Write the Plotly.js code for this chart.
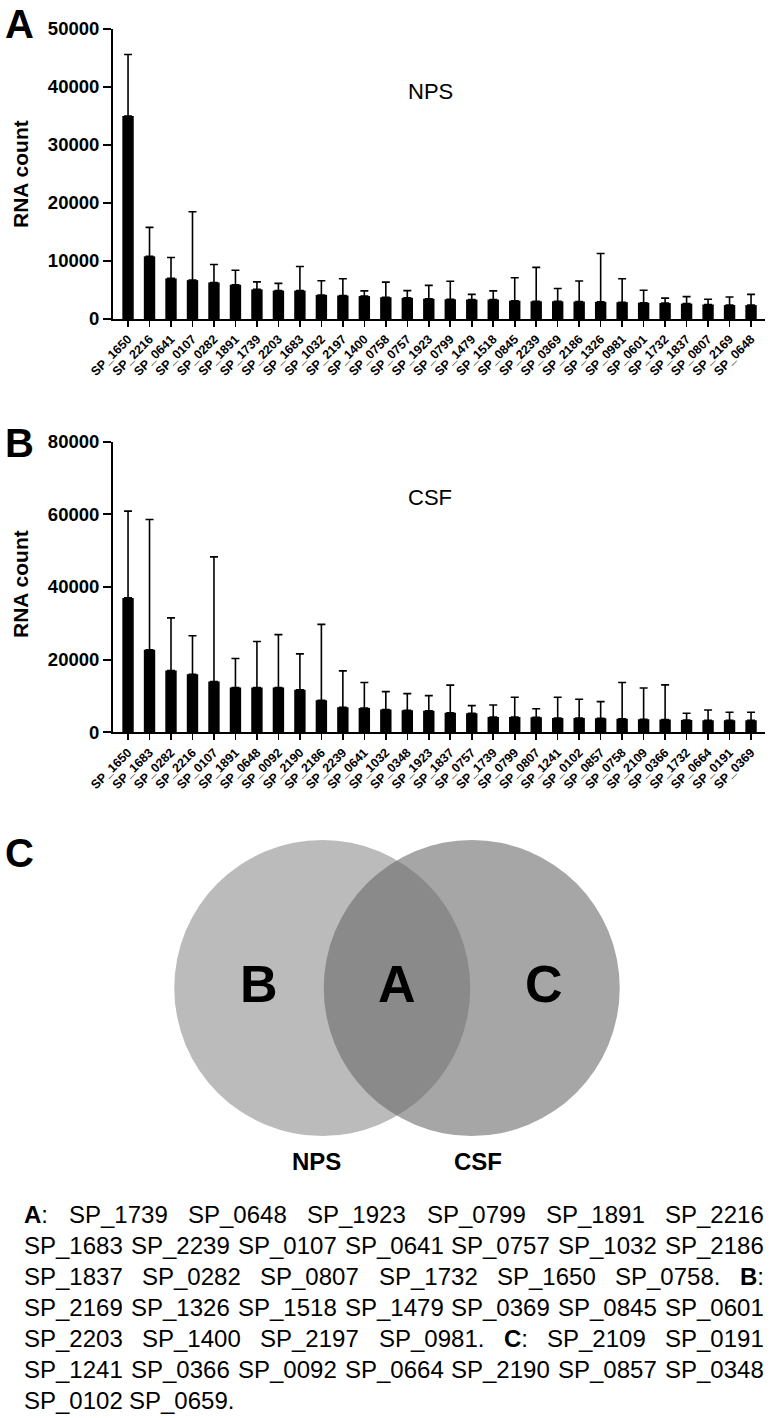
<!DOCTYPE html>
<html>
<head>
<meta charset="utf-8">
<script src="https://cdn.plot.ly/plotly-3.0.1.min.js"></script>
<style>
  html, body { margin: 0; padding: 0; background: #fff; }
  #chart { width: 780px; height: 1418px; }
</style>
</head>
<body>
<div id="chart"></div>
<script>
// ---------------- DATA ----------------
// Panel A: NPS
const npsGenes = ["SP_1650","SP_2216","SP_0641","SP_0107","SP_0282","SP_1891","SP_1739","SP_2203","SP_1683","SP_1032",
  "SP_2197","SP_1400","SP_0758","SP_0757","SP_1923","SP_0799","SP_1479","SP_1518","SP_0845","SP_2239",
  "SP_0369","SP_2186","SP_1326","SP_0981","SP_0601","SP_1732","SP_1837","SP_0807","SP_2169","SP_0648"];
const npsMean = [35000,10800,7000,6700,6300,5900,5100,4900,4900,4150,
  4050,3950,3750,3650,3500,3400,3350,3350,3150,3050,
  3050,3000,2950,2900,2800,2750,2650,2500,2400,2400];
const npsSD = [10600,5000,3600,11800,3100,2500,1300,1250,4150,2450,
  2900,900,2600,1250,2300,3100,900,1500,3950,5850,
  2200,3550,8350,4050,2150,850,1200,900,1400,1850];

// Panel B: CSF
const csfGenes = ["SP_1650","SP_1683","SP_0282","SP_2216","SP_0107","SP_1891","SP_0648","SP_0092","SP_2190","SP_2186",
  "SP_2239","SP_0641","SP_1032","SP_0348","SP_1923","SP_1837","SP_0757","SP_1739","SP_0799","SP_0807",
  "SP_1241","SP_0102","SP_0857","SP_0758","SP_2109","SP_0366","SP_1732","SP_0664","SP_0191","SP_0369"];
const csfMean = [37000,22700,17000,16000,14000,12300,12300,12300,11700,8800,
  6900,6700,6250,6050,5900,5400,5250,4200,4200,4150,
  3950,3950,3850,3750,3600,3500,3400,3300,3300,3300];
const csfSD = [23900,35900,14500,10600,34300,8000,12700,14600,9900,20900,
  10000,7000,4950,4600,4200,7600,2100,3300,5450,2350,
  5700,5150,4600,9950,8600,9550,1850,2850,2200,2200];

// Panel C: Venn groups
const groupA = ["SP_1739","SP_0648","SP_1923","SP_0799","SP_1891","SP_2216","SP_1683","SP_2239","SP_0107","SP_0641",
  "SP_0757","SP_1032","SP_2186","SP_1837","SP_0282","SP_0807","SP_1732","SP_1650","SP_0758"];
const groupB = ["SP_2169","SP_1326","SP_1518","SP_1479","SP_0369","SP_0845","SP_0601","SP_2203","SP_1400","SP_2197","SP_0981"];
const groupC = ["SP_2109","SP_0191","SP_1241","SP_0366","SP_0092","SP_0664","SP_2190","SP_0857","SP_0348","SP_0102","SP_0659"];
const setNames = ["NPS","CSF"];
const regionNames = ["B","A","C"];

// ---------------- LAYOUT HELPERS ----------------
const W = 780, H = 1418;
const px = x => x / W;
const py = y => 1 - y / H;
const FONT = "Arial, 'Liberation Sans', sans-serif";

function zeros(n){ return new Array(n).fill(0); }

const barTrace = (x, y, sd, xa, ya) => ({
  type: "bar", x: x, y: y, xaxis: xa, yaxis: ya,
  marker: { color: "#000000", line: { width: 0 } },
  width: 0.53,
  error_y: { type: "data", symmetric: false, array: sd, arrayminus: zeros(sd.length),
             color: "#000000", thickness: 1.6, width: 4 },
  hoverinfo: "skip", showlegend: false
});

const xAxisStyle = (domain, anchor, cats) => ({
  domain: domain, anchor: anchor, type: "category",
  categoryorder: "array", categoryarray: cats,
  range: [-0.7, cats.length - 0.35],
  showline: true, linecolor: "#000", linewidth: 2,
  ticks: "outside", ticklen: 6, tickwidth: 1.6, tickcolor: "#000",
  tickangle: -45, showgrid: false, zeroline: false,
  tickfont: { family: FONT, size: 12.5, color: "#000", weight: "bold" },
  automargin: false
});
const yAxisStyle = (domain, anchor, max, dtick) => ({
  domain: domain, anchor: anchor, range: [0, max], dtick: dtick, tick0: 0,
  tickformat: "d", separatethousands: false, exponentformat: "none",
  showline: true, linecolor: "#000", linewidth: 2,
  ticks: "outside", ticklen: 8, tickwidth: 2, tickcolor: "#000",
  showgrid: false, zeroline: false,
  tickfont: { family: FONT, size: 18.5, color: "#000", weight: "bold" },
  automargin: false
});

// Venn geometry (unit circle radius, centre offset)
const vR = 1, vOff = 0.505;

// ---------------- PARAGRAPH (justified) ----------------
const TXT_SIZE = 24;
const canvas = document.createElement("canvas");
const ctx = canvas.getContext("2d");
function wWidth(tok){
  if (tok.bold){
    ctx.font = "bold " + TXT_SIZE + "px Arial";
    const a = ctx.measureText(tok.label).width;
    ctx.font = TXT_SIZE + "px Arial";
    return a + ctx.measureText(":").width;
  }
  ctx.font = TXT_SIZE + "px Arial";
  return ctx.measureText(tok.text).width;
}
const tokens = [];
[[regionNames[1], groupA],[regionNames[0], groupB],[regionNames[2], groupC]].forEach(([lab, arr]) => {
  tokens.push({ bold: true, label: lab, html: "<b>" + lab + "</b>:" });
  arr.forEach((g, i) => {
    const t = g + (i === arr.length - 1 ? "." : "");
    tokens.push({ text: t, html: t });
  });
});
const lineSizes = [7,7,7,7,7,7,2];
const textLeft = 22, textRight = 762, firstLineY = 1214, lineStep = 31;
const textAnnotations = [];
let k = 0;
lineSizes.forEach((n, li) => {
  const lineToks = tokens.slice(k, k + n); k += n;
  const widths = lineToks.map(wWidth);
  const total = widths.reduce((a,b)=>a+b,0);
  const last = li === lineSizes.length - 1;
  ctx.font = TXT_SIZE + "px Arial";
  const gap = last ? ctx.measureText(" ").width : (textRight - textLeft - total) / (n - 1);
  let x = textLeft;
  lineToks.forEach((t, i) => {
    textAnnotations.push({
      xref: "paper", yref: "paper", x: px(x), y: py(firstLineY + li * lineStep),
      xanchor: "left", yanchor: "middle", showarrow: false, text: t.html,
      font: { family: FONT, size: TXT_SIZE, color: "#000" }
    });
    x += widths[i] + gap;
  });
});

// ---------------- FIGURE ----------------
const traces = [
  barTrace(npsGenes, npsMean, npsSD, "x", "y"),
  barTrace(csfGenes, csfMean, csfSD, "x2", "y2")
];

const annotations = [
  { xref:"paper", yref:"paper", x: px(19), y: py(24), text:"<b>A</b>", showarrow:false,
    font:{family:FONT,size:40,color:"#000"}, xanchor:"center", yanchor:"middle" },
  { xref:"paper", yref:"paper", x: px(19), y: py(443), text:"<b>B</b>", showarrow:false,
    font:{family:FONT,size:40,color:"#000"}, xanchor:"center", yanchor:"middle" },
  { xref:"paper", yref:"paper", x: px(19), y: py(853), text:"<b>C</b>", showarrow:false,
    font:{family:FONT,size:40,color:"#000"}, xanchor:"center", yanchor:"middle" },
  { xref:"paper", yref:"paper", x: px(430), y: py(91), text:"NPS", showarrow:false,
    font:{family:FONT,size:22,color:"#000"}, xanchor:"center", yanchor:"middle" },
  { xref:"paper", yref:"paper", x: px(430), y: py(497), text:"CSF", showarrow:false,
    font:{family:FONT,size:22,color:"#000"}, xanchor:"center", yanchor:"middle" },
  { xref:"paper", yref:"paper", x: px(20), y: py(174), text:"<b>RNA count</b>", showarrow:false, textangle:-90,
    font:{family:FONT,size:21,color:"#000"}, xanchor:"center", yanchor:"middle" },
  { xref:"paper", yref:"paper", x: px(20), y: py(584), text:"<b>RNA count</b>", showarrow:false, textangle:-90,
    font:{family:FONT,size:21,color:"#000"}, xanchor:"center", yanchor:"middle" },
  // Venn region letters
  { xref:"x3", yref:"y3", x: -0.93, y: 0.03, text:"<b>"+regionNames[0]+"</b>", showarrow:false,
    font:{family:FONT,size:52,color:"#000"} },
  { xref:"x3", yref:"y3", x: 0, y: 0.03, text:"<b>"+regionNames[1]+"</b>", showarrow:false,
    font:{family:FONT,size:52,color:"#000"} },
  { xref:"x3", yref:"y3", x: 0.99, y: 0.03, text:"<b>"+regionNames[2]+"</b>", showarrow:false,
    font:{family:FONT,size:52,color:"#000"} },
  { xref:"paper", yref:"paper", x: px(316), y: py(1161), text:"<b>"+setNames[0]+"</b>", showarrow:false,
    font:{family:FONT,size:24,color:"#000"}, xanchor:"center", yanchor:"middle" },
  { xref:"paper", yref:"paper", x: px(478), y: py(1161), text:"<b>"+setNames[1]+"</b>", showarrow:false,
    font:{family:FONT,size:24,color:"#000"}, xanchor:"center", yanchor:"middle" }
].concat(textAnnotations);

const shapes = [
  { type:"circle", xref:"x3", yref:"y3", x0:-vOff - vR, x1:-vOff + vR, y0:-vR, y1:vR,
    fillcolor:"#bbbbbb", line:{width:0}, layer:"above" },
  { type:"circle", xref:"x3", yref:"y3", x0:vOff - vR, x1:vOff + vR, y0:-vR, y1:vR,
    fillcolor:"rgba(104,104,104,0.59)", line:{width:0}, layer:"above" }
];

const layout = {
  width: W, height: H,
  margin: { l: 0, r: 0, t: 0, b: 0 },
  paper_bgcolor: "#ffffff", plot_bgcolor: "rgba(0,0,0,0)",
  showlegend: false,
  bargap: 0.47,
  xaxis:  xAxisStyle([px(113), px(765)], "y", npsGenes),
  yaxis:  yAxisStyle([py(319), py(29)], "x", 50000, 10000),
  xaxis2: xAxisStyle([px(113), px(765)], "y2", csfGenes),
  yaxis2: yAxisStyle([py(732.3), py(441.7)], "x2", 80000, 20000),
  xaxis3: { domain:[px(150), px(650)], anchor:"y3", range:[(150-397)/148, (650-397)/148], visible:false, fixedrange:true },
  yaxis3: { domain:[py(1146), py(830)], anchor:"x3", range:[-(1146-988)/148, (988-830)/148], visible:false, fixedrange:true },
  annotations: annotations,
  shapes: shapes,
  font: { family: FONT, color: "#000" }
};

Plotly.newPlot("chart", traces, layout, { staticPlot: true, displayModeBar: false });
</script>
</body>
</html>
